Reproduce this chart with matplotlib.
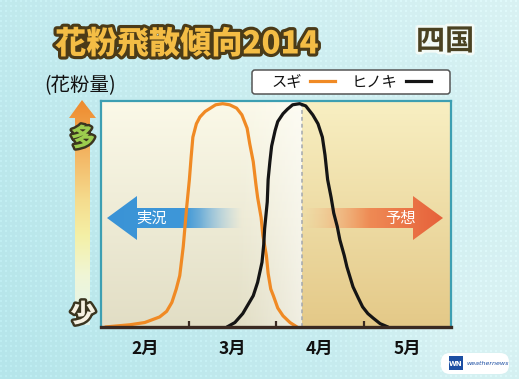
import numpy as np
import matplotlib
matplotlib.use('Agg')
import matplotlib.pyplot as plt
from matplotlib.patches import Polygon, FancyBboxPatch, Rectangle
from matplotlib.lines import Line2D
from matplotlib.colors import to_rgb
import matplotlib.patheffects as pe

plt.rcParams['font.family'] = ['Noto Sans CJK JP', 'DejaVu Sans']

# ---------------- data ----------------
title = '花粉飛散傾向2014'
region = '四国'
ylabel = '(花粉量)'
months = ['2月', '3月', '4月', '5月']
month_centers = [0.5, 1.5, 2.5, 3.5]
month_bounds = [1, 2, 3]
forecast_start = 2.3          # start of forecast period (months from Feb 1)
series_names = ['スギ', 'ヒノキ']

sugi_x = [0.05, 0.13, 0.33, 0.50, 0.67, 0.75, 0.81, 0.86, 0.90, 0.94, 0.96, 0.98,
          1.01, 1.03, 1.05, 1.09, 1.13, 1.19, 1.25, 1.31, 1.39, 1.47, 1.55, 1.61,
          1.67, 1.70, 1.74, 1.77, 1.79, 1.83, 1.85, 1.89, 1.91, 1.94, 1.97, 2.02,
          2.08, 2.16, 2.24]
sugi_y = [0.0, 0.003, 0.01, 0.02, 0.045, 0.07, 0.11, 0.17, 0.23, 0.36, 0.45, 0.54,
          0.66, 0.76, 0.85, 0.91, 0.94, 0.965, 0.98, 0.995, 1.0, 0.995, 0.98, 0.95,
          0.89, 0.82, 0.74, 0.64, 0.58, 0.49, 0.41, 0.32, 0.24, 0.17, 0.14, 0.085,
          0.05, 0.02, 0.0]

hinoki_x = [1.44, 1.53, 1.62, 1.68, 1.74, 1.79, 1.84, 1.86, 1.87, 1.90, 1.91, 1.93,
            1.95, 1.99, 2.02, 2.08, 2.13, 2.19, 2.27, 2.34, 2.42, 2.48, 2.53, 2.56,
            2.59, 2.63, 2.66, 2.70, 2.73, 2.78, 2.81, 2.88, 2.94, 2.99, 3.05, 3.11,
            3.19, 3.28]
hinoki_y = [0.0, 0.02, 0.06, 0.10, 0.14, 0.20, 0.29, 0.37, 0.44, 0.56, 0.66, 0.74,
            0.81, 0.88, 0.92, 0.955, 0.975, 0.995, 1.0, 0.99, 0.95, 0.91, 0.85, 0.77,
            0.66, 0.58, 0.51, 0.45, 0.39, 0.32, 0.27, 0.18, 0.13, 0.09, 0.06, 0.04,
            0.015, 0.0]

sugi_color = '#f08a24'
hinoki_color = '#151515'

# ---------------- figure ----------------
W, H = 519, 379
fig = plt.figure(figsize=(W / 100, H / 100), dpi=100)

bg = fig.add_axes([0, 0, 1, 1], zorder=0)
bg.set_xlim(0, W)
bg.set_ylim(H, 0)
bg.axis('off')

# background: cyan gradient with halftone dots
yy, xx = np.mgrid[0:H, 0:W]
c_dark = np.array(to_rgb('#b5e5ea'))
c_light = np.array(to_rgb('#e2f5f5'))
t = np.clip(0.25 + 0.55 * (xx / W) - 0.25 * (yy / H) + 0.25 * np.exp(-((xx - 470) ** 2 + (yy - 330) ** 2) / 9000.), 0, 1)
img = c_dark[None, None, :] * (1 - t[..., None]) + c_light[None, None, :] * t[..., None]
dots = ((xx % 5) < 2) & ((yy % 5) < 2)
img = np.where(dots[..., None], np.clip(img + 0.03, 0, 1), img)
bg.imshow(img, extent=(0, W, H, 0), aspect='auto', interpolation='bilinear', zorder=0)

# title
bg.text(55, 44, title, fontsize=22.5, fontweight='heavy', color='#f4bd45',
        ha='left', va='center',
        path_effects=[pe.Stroke(linewidth=4.5, foreground='#4b3b18'), pe.Normal()], zorder=5)
bg.text(445, 41, region, fontsize=21, fontweight='bold', color='#4a4222',
        ha='center', va='center',
        path_effects=[pe.Stroke(linewidth=4, foreground='#f3faf6'), pe.Normal()], zorder=5)
bg.text(44, 86, ylabel, fontsize=14, color='#111111', ha='left', va='center', zorder=5)

# vertical "amount" arrow
arr_poly = Polygon([(82, 100), (69, 118), (75, 118), (75, 325), (90, 325), (90, 118), (96, 118)],
                   closed=True, facecolor='none', edgecolor='none', transform=bg.transData)
bg.add_patch(arr_poly)
stops_y = np.array([100, 120, 160, 200, 235, 275, 325])
stops_c = np.array([to_rgb(c) for c in ['#ee8a2e', '#f09a40', '#f3bb6a', '#f5dc8e',
                                          '#f4f0a6', '#f0f6d6', '#e2f5f0']])
ys = np.arange(100, 326)
col = np.stack([np.interp(ys, stops_y, stops_c[:, k]) for k in range(3)], axis=-1)
varr = np.repeat(col[:, None, :], 4, axis=1)
im = bg.imshow(varr, extent=(68, 97, 326, 100), aspect='auto', interpolation='bilinear', zorder=2)
im.set_clip_path(arr_poly)
bg.text(83, 138, '多', fontsize=18, fontweight='heavy', color='#9ccd4e', ha='center', va='center',
        path_effects=[pe.Stroke(linewidth=3.5, foreground='#3b3520'), pe.Normal()], zorder=5)
bg.text(83, 314, '少', fontsize=18, fontweight='heavy', color='#f6f1e2', ha='center', va='center',
        path_effects=[pe.Stroke(linewidth=3.5, foreground='#3b3520'), pe.Normal()], zorder=5)

# logo
bg.add_patch(FancyBboxPatch((441, 353), 68, 21, boxstyle='round,pad=0,rounding_size=9',
                            facecolor='white', edgecolor='none', zorder=5))
bg.add_patch(Rectangle((449, 356), 14, 14, facecolor='#1d4fa3', edgecolor='none', zorder=6))
bg.text(456, 363.5, 'WN', fontsize=5, color='white', fontweight='bold', ha='center', va='center',
        family='DejaVu Sans', zorder=7)
bg.text(466, 363.5, 'weathernews', fontsize=4.6, color='#1d4fa3', style='italic', ha='left',
        va='center', family='DejaVu Sans', zorder=7)

# legend box
bg.add_patch(FancyBboxPatch((252, 70), 198, 24, boxstyle='round,pad=0,rounding_size=3',
                            facecolor='white', edgecolor='#555555', linewidth=1.1, zorder=5))

# ---------------- plot axes ----------------
ax = fig.add_axes([101 / W, 1 - 327 / H, 350 / W, 226 / H], zorder=1)
ax.patch.set_visible(False)
YT = 1.012

def vgrad(top, bottom, n=64):
    a = np.array(to_rgb(top)); b = np.array(to_rgb(bottom))
    s = np.linspace(0, 1, n)[:, None]
    return (a * (1 - s) + b * s)[:, None, :]

ax.imshow(vgrad('#fbf9e8', '#e2dec5'), extent=(0, forecast_start, 0, YT), aspect='auto',
          interpolation='bilinear', zorder=0)
ax.imshow(vgrad('#f8efc2', '#e4c988'), extent=(forecast_start, 4, 0, YT), aspect='auto',
          interpolation='bilinear', zorder=0)
glow = np.zeros((2, 64, 4))
glow[..., :3] = 1.0
glow[..., 3] = np.linspace(0, 0.6, 64)[None, :] ** 1.3
ax.imshow(glow, extent=(1.5, forecast_start, 0, YT), aspect='auto', interpolation='bilinear', zorder=0.5)
ax.axvline(forecast_start, color='#a3a8b0', lw=1.1, ls=(0, (2.5, 2)), zorder=1)

# horizontal arrows (pixel coordinates)
def h_arrow(poly_pts, x0, x1, y0, y1, colors, alphas):
    poly = Polygon(poly_pts, closed=True, facecolor='none', edgecolor='none', transform=bg.transData)
    ax.add_patch(poly)
    xs = np.linspace(x0, x1, 200)
    rgba = np.zeros((2, 200, 4))
    cx, cc = colors
    for k in range(3):
        rgba[..., k] = np.interp(xs, cx, [to_rgb(c)[k] for c in cc])[None, :]
    ax_, aa = alphas
    rgba[..., 3] = np.interp(xs, ax_, aa)[None, :]
    im = ax.imshow(rgba, extent=(x0, x1, y1, y0), transform=bg.transData, aspect='auto',
                   interpolation='bilinear', zorder=2)
    im.set_clip_path(poly)

h_arrow([(107, 218), (137, 196), (137, 208), (246, 208), (246, 228), (137, 228), (137, 240)],
        105, 246, 194, 242,
        ([105, 200, 246], ['#3a93d6', '#3f98d9', '#8cc3ea']),
        ([105, 185, 242], [1, 1, 0]))
h_arrow([(443, 218), (413, 196), (413, 208), (300, 208), (300, 228), (413, 228), (413, 240)],
        300, 444, 194, 242,
        ([300, 360, 444], ['#f6b987', '#f09058', '#e6603a']),
        ([305, 370, 444], [0, 1, 1]))
ax.text(151, 218, '実況', fontsize=11, color='white', ha='center', va='center',
        transform=bg.transData, zorder=2.5)
ax.text(400, 218, '予想', fontsize=11, color='white', ha='center', va='center',
        transform=bg.transData, zorder=2.5)

# curves
ax.plot(sugi_x, sugi_y, color=sugi_color, lw=2.3, solid_joinstyle='round',
        solid_capstyle='round', zorder=3)
ax.plot(hinoki_x, hinoki_y, color=hinoki_color, lw=2.3, solid_joinstyle='round',
        solid_capstyle='round', zorder=3)

ax.set_xlim(0, 4)
ax.set_ylim(0, YT)
ax.set_yticks([])
ax.set_xticks(month_bounds)
ax.set_xticklabels([])
ax.set_xticks(month_centers, minor=True)
ax.set_xticklabels(months, minor=True, fontsize=12.5, fontweight='bold', color='#111111')
ax.tick_params(axis='x', which='major', direction='in', length=4.5, width=1.6, color='#3a2a22')
ax.tick_params(axis='x', which='minor', length=0, pad=9)
for s in ['left', 'top', 'right']:
    ax.spines[s].set_color('#3d9fb2')
    ax.spines[s].set_linewidth(1.6)
ax.spines['bottom'].set_color('#3a2a22')
ax.spines['bottom'].set_linewidth(2.4)
ax.spines['bottom'].set_zorder(4)

# legend (label first, then line)
handles = [Line2D([], [], color=sugi_color, lw=2.3), Line2D([], [], color=hinoki_color, lw=2.3)]
leg = fig.legend(handles, series_names, loc='center', bbox_to_anchor=(351 / W, 1 - 82 / H),
                 ncol=2, markerfirst=False, fontsize=11, frameon=False,
                 handlelength=1.65, handletextpad=0.55, columnspacing=1.05, borderpad=0.3,
                 borderaxespad=0)
leg.set_zorder(6)
for txt in leg.get_texts():
    txt.set_color('#111111')

fig.savefig('out.png', dpi=100)
